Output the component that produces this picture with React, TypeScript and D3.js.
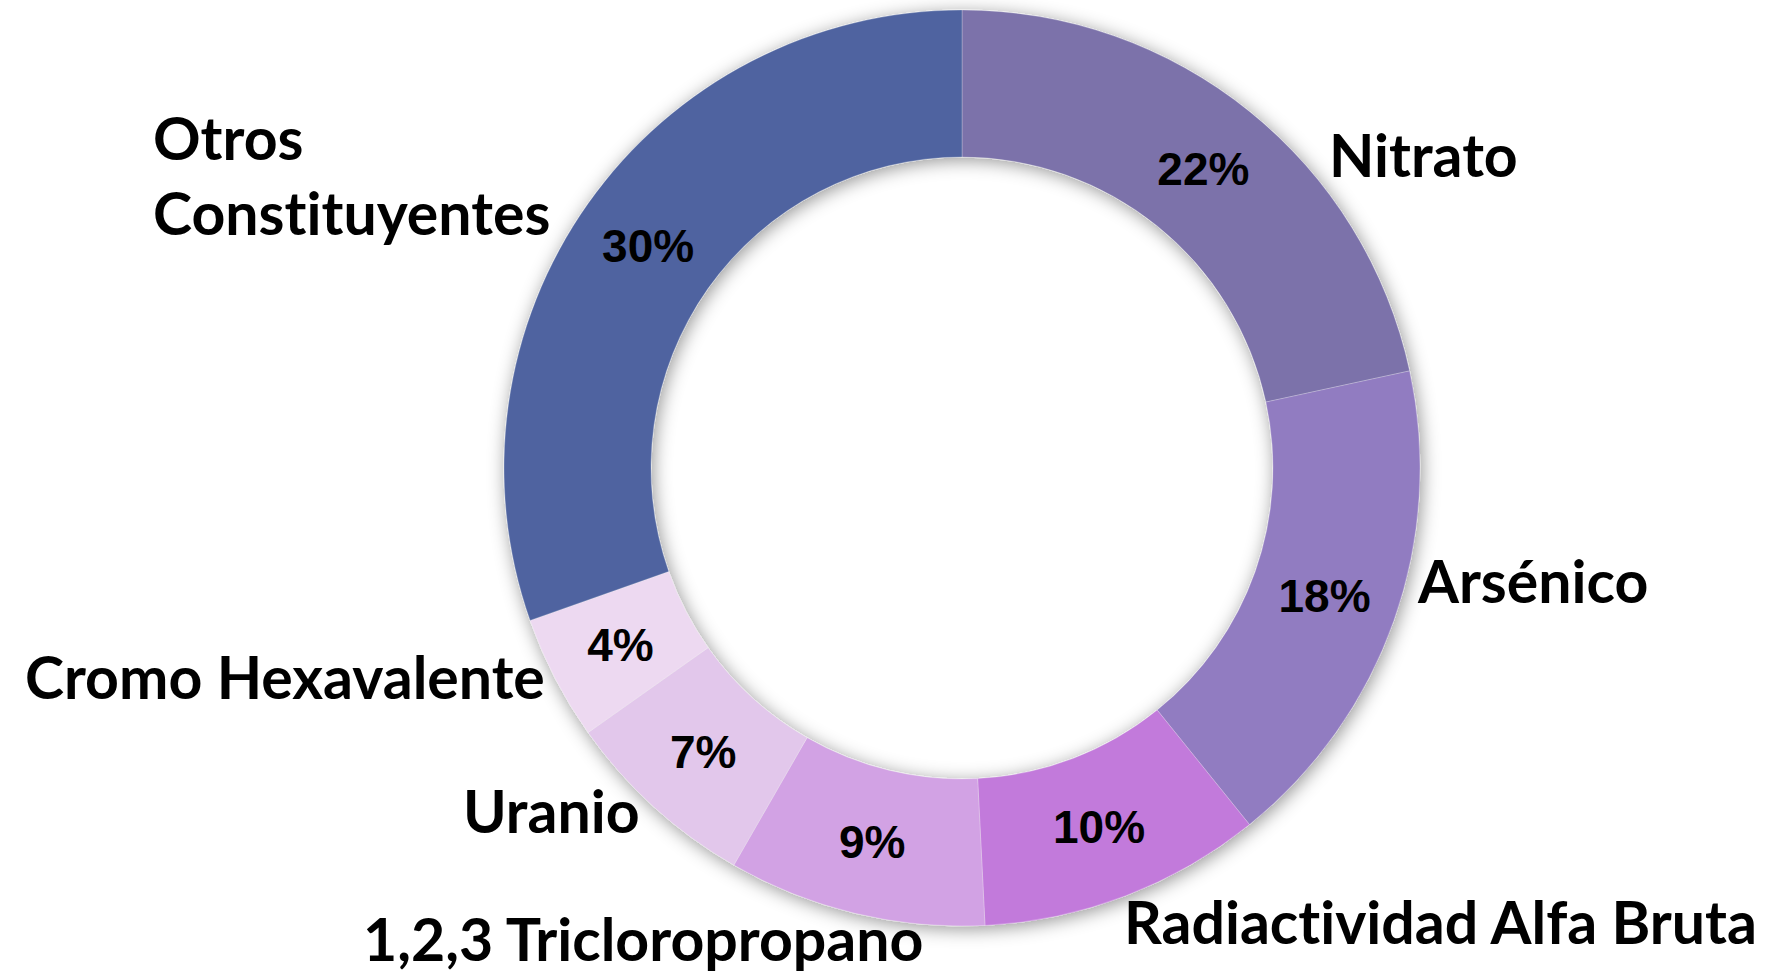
import React, { useRef, useEffect } from "react"
import * as d3 from "d3"

// contaminantes, en el orden de las agujas del reloj desde arriba
const categories = ["Nitrato", "Arsénico", "Radiactividad Alfa Bruta", "1,2,3 Tricloropropano", "Uranio", "Cromo Hexavalente", "Otros Constituyentes"]
const shares = [21.6, 17.6, 10.0, 9.1, 6.9, 4.4, 30.4]
const colors = ["#7b72aa", "#917bc1", "#c27adb", "#d2a2e4", "#e2c7eb", "#edd9f1", "#4f64a0"]

// where each category label sits (left x, middle y) and how it is anchored
const labelSpots: [number, number, string][] = [
    [1329, 154, "start"],
    [1418, 580, "start"],
    [1124, 921, "start"],
    [363, 938, "start"],
    [463, 810, "start"],
    [25, 676, "start"],
    [153, 137, "start"],
]

export default function App() {
    const svgRef = useRef<SVGSVGElement>(null)

    useEffect(() => {
        const width = 1781, height = 979
        const cx = 962, cy = 468
        const outer = 458, inner = 311

        const svg = d3.select(svgRef.current)
        svg.selectAll("*").remove()

        const defs = svg.append("defs")
        const f = defs.append("filter")
            .attr("id", "glow")
            .attr("x", "-20%").attr("y", "-20%")
            .attr("width", "140%").attr("height", "140%")
        f.append("feDropShadow")
            .attr("dx", 2).attr("dy", 3)
            .attr("stdDeviation", 9)
            .attr("flood-color", "#000")
            .attr("flood-opacity", 0.42)

        const pie = d3.pie<number>().sort(null).value(d => d)
        const arcs = pie(shares)
        const arc = d3.arc<d3.PieArcDatum<number>>().innerRadius(inner).outerRadius(outer)

        const g = svg.append("g").attr("transform", "translate(" + cx + "," + cy + ")")

        const ring = g.append("g").attr("filter", "url(#glow)")
        ring.selectAll("path")
            .data(arcs)
            .enter()
            .append("path")
            .attr("d", arc)
            .attr("fill", (d, i) => colors[i])
            .attr("stroke", "#ffffff")
            .attr("stroke-opacity", 0.4)
            .attr("stroke-width", 0.6)

        // porcentajes dentro del anillo
        g.selectAll("text.pct")
            .data(arcs)
            .enter()
            .append("text")
            .attr("class", "pct")
            .attr("x", d => arc.centroid(d)[0])
            .attr("y", d => arc.centroid(d)[1])
            .attr("text-anchor", "middle")
            .attr("dominant-baseline", "central")
            .attr("font-family", "'Liberation Sans', Arial, sans-serif")
            .attr("font-weight", "bold")
            .attr("font-size", "46px")
            .attr("fill", "#000")
            .text(d => Math.round(d.data) + "%")

        // nombres de categoria
        const names = svg.append("g")
            .attr("font-family", "Lato, 'Open Sans', sans-serif")
            .attr("font-weight", "bold")
            .attr("font-size", "59px")
            .style("font-variant-ligatures", "none")
            .attr("fill", "#000")

        categories.forEach((name, i) => {
            const [x, y, anchor] = labelSpots[i]
            if (name === "Otros Constituyentes") {
                const t = names.append("text").attr("text-anchor", anchor)
                t.append("tspan").attr("x", x).attr("y", y).attr("dominant-baseline", "central").text("Otros")
                t.append("tspan").attr("x", x).attr("y", y + 75).attr("dominant-baseline", "central").text("Constituyentes")
            } else {
                names.append("text")
                    .attr("x", x)
                    .attr("y", y)
                    .attr("text-anchor", anchor)
                    .attr("dominant-baseline", "central")
                    .text(name)
            }
        })

        svg.attr("width", width).attr("height", height)
    }, [])

    return (
        <svg ref={svgRef} width={1781} height={979}
            style={{ position: "absolute", left: 0, top: 0, background: "#ffffff" }}></svg>
    )
}
